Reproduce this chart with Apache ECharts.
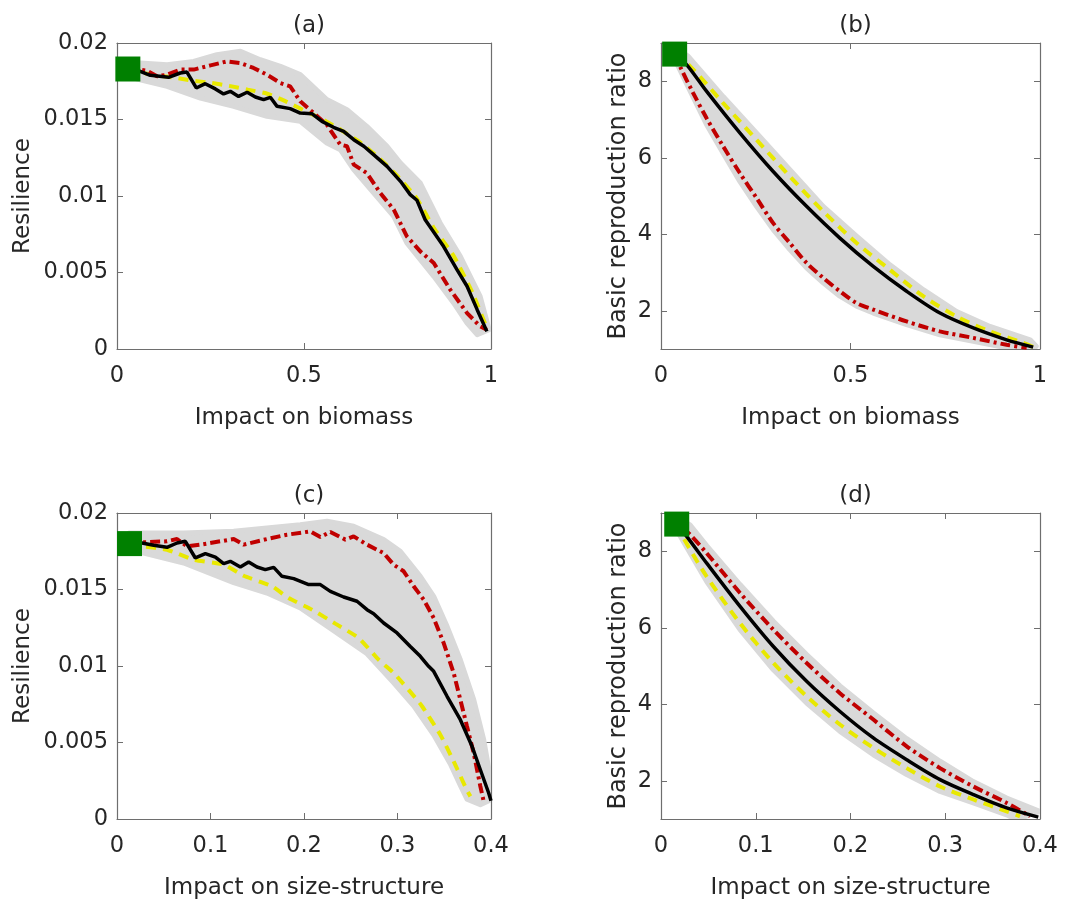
<!DOCTYPE html>
<html><head><meta charset="utf-8">
<script src="https://cdn.jsdelivr.net/npm/echarts@6/dist/echarts.min.js"></script>
<style>html,body{margin:0;padding:0;background:#fff}#c{width:1065px;height:908px}</style>
</head><body><div id="c"></div>
<script>
// ---- tick labels ----
const biomassTicks = [0, 0.5, 1];
const sizeTicks = [0, 0.1, 0.2, 0.3, 0.4];
const resilienceTicks = [0, 0.005, 0.01, 0.015, 0.02];
const r0Ticks = [2, 4, 6, 8];

// ---- panel (a): resilience vs impact on biomass ----
const aStart = [[0.029, 0.0183]];
const aUpper = [[0.03,0.0187],[0.062,0.01869],[0.134,0.01858],[0.205,0.0188],[0.267,0.01924],[0.33,0.01946],[0.383,0.01891],[0.437,0.01847],[0.49,0.01793],[0.561,0.0163],[0.615,0.01564],[0.668,0.01455],[0.722,0.01325],[0.758,0.01216],[0.811,0.01085],[0.864,0.00824],[0.918,0.00606],[0.971,0.00344],[0.995,0.00126]];
const aLower = [[0.03,0.0178],[0.062,0.0176],[0.134,0.01717],[0.223,0.0164],[0.312,0.01586],[0.401,0.01521],[0.49,0.01488],[0.561,0.01346],[0.597,0.01303],[0.633,0.01172],[0.686,0.0102],[0.74,0.00867],[0.775,0.00693],[0.811,0.00584],[0.847,0.00475],[0.9,0.00301],[0.936,0.0017],[0.963,0.00094]];
const aYellow = [[0.03,0.0182],[0.05,0.01815],[0.1,0.0179],[0.15,0.01775],[0.2,0.01755],[0.25,0.0174],[0.3,0.0172],[0.35,0.01695],[0.4,0.0167],[0.45,0.0162],[0.5,0.0156],[0.55,0.0150],[0.6,0.0143],[0.65,0.0135],[0.7,0.0125],[0.75,0.0113],[0.8,0.0099],[0.85,0.0078],[0.9,0.0061],[0.95,0.0037],[0.99,0.0013]];
const aRed = [[0.03,0.0183],[0.062,0.01826],[0.08,0.01819],[0.107,0.01782],[0.134,0.01793],[0.169,0.01826],[0.205,0.01826],[0.25,0.01854],[0.294,0.0188],[0.33,0.01869],[0.365,0.01837],[0.401,0.01793],[0.437,0.01738],[0.463,0.01717],[0.49,0.01619],[0.526,0.01542],[0.561,0.01466],[0.588,0.01368],[0.597,0.01336],[0.615,0.01325],[0.633,0.01205],[0.668,0.0115],[0.704,0.0102],[0.74,0.00911],[0.775,0.00736],[0.811,0.00638],[0.847,0.00562],[0.891,0.00388],[0.936,0.00235],[0.971,0.00148],[0.989,0.00126]];
const aBlack = [[0.03,0.0182],[0.062,0.01815],[0.089,0.01789],[0.138,0.01776],[0.169,0.01804],[0.187,0.0181],[0.212,0.01706],[0.236,0.01734],[0.263,0.0170],[0.285,0.01667],[0.303,0.01684],[0.325,0.01651],[0.348,0.01678],[0.370,0.01647],[0.392,0.0163],[0.41,0.01645],[0.428,0.01586],[0.463,0.01571],[0.49,0.01542],[0.521,0.01538],[0.548,0.01488],[0.579,0.01449],[0.606,0.01423],[0.633,0.01368],[0.66,0.01325],[0.686,0.0127],[0.722,0.01194],[0.758,0.01096],[0.784,0.01009],[0.802,0.00972],[0.824,0.00845],[0.873,0.00671],[0.909,0.00519],[0.936,0.0041],[0.963,0.00257],[0.989,0.00115]];

// ---- panel (b): R0 vs impact on biomass ----
const bStart = [[0.036, 8.71]];
const bUpper = [[0.036,8.9],[0.072,8.65],[0.164,7.6],[0.252,6.65],[0.34,5.69],[0.428,4.73],[0.516,3.95],[0.604,3.2],[0.692,2.55],[0.78,1.98],[0.868,1.59],[0.974,1.24],[0.99,1.07]];
const bLower = [[0.036,8.6],[0.041,8.48],[0.077,7.74],[0.12,6.87],[0.164,6.12],[0.208,5.38],[0.252,4.73],[0.296,4.12],[0.34,3.6],[0.384,3.12],[0.428,2.73],[0.472,2.38],[0.516,2.12],[0.56,1.94],[0.648,1.64],[0.736,1.37],[0.824,1.2],[0.912,1.03],[0.974,0.94]];
const bYellow = [[0.036,8.71],[0.077,8.39],[0.164,7.43],[0.252,6.47],[0.34,5.51],[0.428,4.6],[0.516,3.77],[0.604,3.07],[0.692,2.38],[0.78,1.85],[0.868,1.46],[0.956,1.16],[0.987,1.03]];
const bRed = [[0.036,8.71],[0.05,8.39],[0.085,7.69],[0.12,7.04],[0.164,6.3],[0.208,5.6],[0.252,4.95],[0.296,4.29],[0.34,3.77],[0.384,3.25],[0.428,2.86],[0.472,2.51],[0.516,2.2],[0.56,2.03],[0.648,1.72],[0.736,1.46],[0.824,1.29],[0.912,1.11],[0.965,1.03]];
const bBlack = [[0.036,8.71],[0.068,8.43],[0.12,7.74],[0.208,6.65],[0.296,5.64],[0.384,4.73],[0.472,3.9],[0.56,3.16],[0.648,2.51],[0.736,1.94],[0.824,1.55],[0.912,1.24],[0.982,1.05]];

// ---- panel (c): resilience vs impact on size-structure ----
const cStart = [[0.0134, 0.018]];
const cUpper = [[0.013,0.0187],[0.0285,0.01869],[0.0713,0.01869],[0.1248,0.0188],[0.1604,0.01902],[0.196,0.01924],[0.2246,0.01946],[0.2531,0.01913],[0.2852,0.01826],[0.303,0.01749],[0.3244,0.01586],[0.3387,0.01455],[0.353,0.01259],[0.3672,0.01041],[0.3815,0.0078],[0.3922,0.00519],[0.399,0.00279],[0.4,0.00126]];
const cLower = [[0.013,0.0174],[0.0285,0.01738],[0.0713,0.01673],[0.1248,0.01545],[0.1604,0.01477],[0.1961,0.01379],[0.2317,0.0123],[0.2674,0.0108],[0.2959,0.0089],[0.3173,0.0074],[0.3387,0.0055],[0.3565,0.0036],[0.3672,0.0022],[0.3743,0.0013],[0.3886,0.00094]];
const cYellow = [[0.013,0.0179],[0.0267,0.01782],[0.0535,0.0176],[0.082,0.01695],[0.1141,0.01662],[0.1355,0.0159],[0.1658,0.01521],[0.1836,0.01444],[0.2086,0.01368],[0.2335,0.01277],[0.2585,0.01183],[0.2799,0.01041],[0.2977,0.00943],[0.3251,0.00747],[0.3458,0.00551],[0.3601,0.00377],[0.3743,0.00187],[0.378,0.00148]];
const cRed = [[0.013,0.0181],[0.0267,0.01808],[0.0535,0.01815],[0.0642,0.0183],[0.0749,0.01782],[0.0891,0.01793],[0.1105,0.01815],[0.1248,0.0183],[0.1355,0.01793],[0.1604,0.0183],[0.1818,0.01858],[0.2068,0.0188],[0.2175,0.01843],[0.2282,0.01876],[0.2442,0.01826],[0.2531,0.01847],[0.2674,0.01793],[0.2852,0.01738],[0.2959,0.01662],[0.3066,0.01619],[0.3173,0.01521],[0.328,0.01434],[0.3387,0.01314],[0.3494,0.0115],[0.3601,0.00954],[0.3672,0.0078],[0.3743,0.00606],[0.3815,0.00431],[0.3886,0.00214],[0.3922,0.00115]];
const cBlack = [[0.013,0.0181],[0.0267,0.01804],[0.0392,0.01789],[0.0535,0.01776],[0.0642,0.01804],[0.0731,0.01815],[0.0838,0.01706],[0.0945,0.01734],[0.1052,0.01712],[0.1141,0.01669],[0.1212,0.01684],[0.1319,0.01647],[0.1408,0.0168],[0.1497,0.01647],[0.1586,0.0163],[0.1676,0.01645],[0.1765,0.01586],[0.189,0.01571],[0.205,0.01532],[0.2175,0.01532],[0.2282,0.01488],[0.2424,0.01451],[0.2567,0.01423],[0.2674,0.01368],[0.2745,0.01342],[0.2852,0.01281],[0.2995,0.01216],[0.3137,0.01128],[0.3244,0.01063],[0.3333,0.00998],[0.3387,0.00965],[0.353,0.00802],[0.3672,0.00649],[0.3797,0.00475],[0.3886,0.00322],[0.3975,0.0017],[0.4,0.0012]];

// ---- panel (d): R0 vs impact on size-structure ----
const dStart = [[0.0166, 8.71]];
const dUpper = [[0.0166,8.9],[0.0306,8.69],[0.0482,8.15],[0.0834,7.13],[0.1186,6.17],[0.1537,5.3],[0.1889,4.48],[0.2241,3.77],[0.2593,3.1],[0.2945,2.51],[0.3296,1.98],[0.3648,1.55],[0.4,1.2]];
const dLower = [[0.0166,8.55],[0.0482,7.21],[0.0834,5.95],[0.1186,4.9],[0.1537,4.03],[0.1889,3.29],[0.2241,2.68],[0.2593,2.16],[0.2945,1.72],[0.3296,1.42],[0.3648,1.11],[0.375,0.98]];
const dYellow = [[0.0166,8.71],[0.0236,8.35],[0.0482,7.34],[0.0834,6.12],[0.1186,5.08],[0.1537,4.21],[0.1889,3.47],[0.2241,2.86],[0.2593,2.33],[0.2945,1.85],[0.3296,1.51],[0.3648,1.2],[0.3789,1.07]];
const dRed = [[0.0166,8.71],[0.0289,8.48],[0.0482,7.95],[0.0834,6.91],[0.1186,5.95],[0.1537,5.08],[0.1889,4.29],[0.2241,3.6],[0.2593,2.9],[0.2945,2.33],[0.3296,1.85],[0.3648,1.42],[0.3895,1.07]];
const dBlack = [[0.0166,8.71],[0.0271,8.39],[0.0482,7.69],[0.0834,6.56],[0.1186,5.51],[0.1537,4.6],[0.1889,3.81],[0.2241,3.12],[0.2593,2.55],[0.2945,2.03],[0.3296,1.64],[0.3648,1.29],[0.3982,1.05]];

const FONT = '"DejaVu Sans", "Liberation Sans", Arial, sans-serif';
const TXT = '#262626';
const AX = '#6e6e6e';
const FS_TICK = 22.5;
const FS_NAME = 23;

const panels = [
  {title:'(a)', grid:{left:117, top:43, width:374, height:306}, xr:[0,1], xt:biomassTicks, yr:[0,0.02], yt:resilienceTicks,
   xname:'Impact on biomass', yname:'Resilience', ygap:82, yfs:23, up:aUpper, lo:aLower, ye:aYellow, re:aRed, bl:aBlack, st:aStart, smooth:false},
  {title:'(b)', grid:{left:661, top:43, width:379, height:306}, xr:[0,1], xt:biomassTicks, yr:[1,9], yt:r0Ticks,
   xname:'Impact on biomass', yname:'Basic reproduction ratio', ygap:30, yfs:24, up:bUpper, lo:bLower, ye:bYellow, re:bRed, bl:bBlack, st:bStart, smooth:true},
  {title:'(c)', grid:{left:117, top:513, width:374, height:306}, xr:[0,0.4], xt:sizeTicks, yr:[0,0.02], yt:resilienceTicks,
   xname:'Impact on size-structure', yname:'Resilience', ygap:82, yfs:23, up:cUpper, lo:cLower, ye:cYellow, re:cRed, bl:cBlack, st:cStart, smooth:false},
  {title:'(d)', grid:{left:661, top:513, width:379, height:306}, xr:[0,0.4], xt:sizeTicks, yr:[1,9], yt:r0Ticks,
   xname:'Impact on size-structure', yname:'Basic reproduction ratio', ygap:30, yfs:24, up:dUpper, lo:dLower, ye:dYellow, re:dRed, bl:dBlack, st:dStart, smooth:true}
];

const option = {animation:false, backgroundColor:'#fff', title:[], grid:[], xAxis:[], yAxis:[], series:[]};

panels.forEach((p, i) => {
  option.grid.push(Object.assign({containLabel:false}, p.grid));
  option.title.push({text:p.title, left:p.grid.left + p.grid.width/2, top:p.grid.top - 33, textAlign:'center',
    textStyle:{fontFamily:FONT, fontSize:FS_NAME, fontWeight:'normal', color:TXT}});
  option.xAxis.push({type:'value', gridIndex:i, position:'bottom', min:p.xr[0], max:p.xr[1],
    name:p.xname, nameLocation:'middle', nameGap:58, nameTextStyle:{fontFamily:FONT, fontSize:FS_NAME, color:TXT},
    axisLine:{show:true, onZero:false, lineStyle:{color:AX, width:1.2}}, splitLine:{show:false},
    axisTick:{show:true, inside:true, length:6, customValues:p.xt, lineStyle:{color:AX}},
    axisLabel:{show:true, margin:16, customValues:p.xt, fontFamily:FONT, fontSize:FS_TICK, color:TXT}});
  option.xAxis.push({type:'value', gridIndex:i, position:'top', min:p.xr[0], max:p.xr[1],
    axisLine:{show:true, onZero:false, lineStyle:{color:AX, width:1.2}}, splitLine:{show:false},
    axisTick:{show:true, inside:true, length:6, customValues:p.xt, lineStyle:{color:AX}},
    axisLabel:{show:false}});
  option.yAxis.push({type:'value', gridIndex:i, position:'left', min:p.yr[0], max:p.yr[1],
    name:p.yname, nameLocation:'middle', nameGap:p.ygap, nameRotate:90, nameTextStyle:{fontFamily:FONT, fontSize:p.yfs, color:TXT},
    axisLine:{show:true, onZero:false, lineStyle:{color:AX, width:1.2}}, splitLine:{show:false},
    axisTick:{show:true, inside:true, length:6, customValues:p.yt, lineStyle:{color:AX}},
    axisLabel:{show:true, margin:9, customValues:p.yt, fontFamily:FONT, fontSize:FS_TICK, color:TXT}});
  option.yAxis.push({type:'value', gridIndex:i, position:'right', min:p.yr[0], max:p.yr[1],
    axisLine:{show:true, onZero:false, lineStyle:{color:AX, width:1.2}}, splitLine:{show:false},
    axisTick:{show:true, inside:true, length:6, customValues:p.yt, lineStyle:{color:AX}},
    axisLabel:{show:false}});

  const xi = 2*i, yi = 2*i;
  const up = p.up, lo = p.lo;
  option.series.push({type:'custom', xAxisIndex:xi, yAxisIndex:yi, clip:true, z:1, silent:true,
    data:[up[0]], encode:{x:0, y:1},
    renderItem:(params, api) => {
      const pts = up.map(q => api.coord(q)).concat(lo.slice().reverse().map(q => api.coord(q)));
      return {type:'polygon', shape:{points:pts},
        style:{fill:'#d9d9d9', stroke:'#d9d9d9', lineWidth:5, lineJoin:'round'}};
    }});
  option.series.push({type:'line', xAxisIndex:xi, yAxisIndex:yi, data:p.ye, z:2, symbol:'none', smooth:p.smooth ? 0.3 : 0.15,
    lineStyle:{color:'#e8e800', width:4, type:[10,7]}});
  option.series.push({type:'line', xAxisIndex:xi, yAxisIndex:yi, data:p.re, z:3, symbol:'none', smooth:p.smooth ? 0.3 : false,
    lineStyle:{color:'#c00000', width:4, type:[10,4,3,4]}});
  option.series.push({type:'line', xAxisIndex:xi, yAxisIndex:yi, data:p.bl, z:4, symbol:'none', smooth:p.smooth ? 0.3 : false,
    lineStyle:{color:'#000000', width:3.5}});
  option.series.push({type:'scatter', xAxisIndex:xi, yAxisIndex:yi, data:p.st, z:5, symbol:'rect', symbolSize:25,
    itemStyle:{color:'#008000', opacity:1}, clip:false});
});

const chart = echarts.init(document.getElementById('c'), null, {renderer:'canvas'});
chart.setOption(option);
</script>
</body></html>
